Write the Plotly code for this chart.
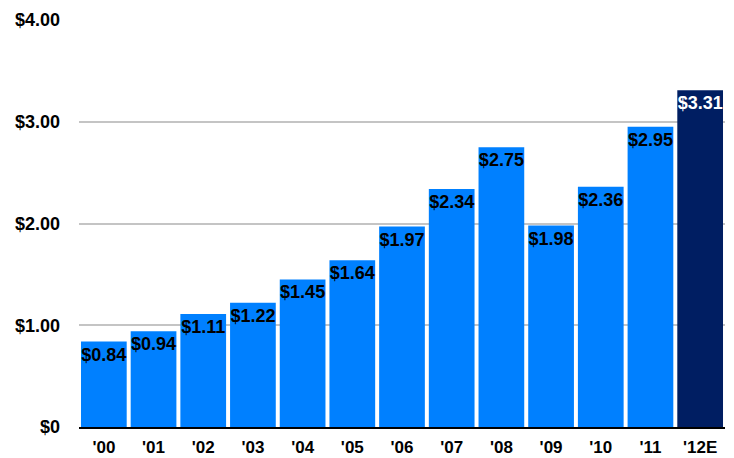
import plotly.graph_objects as go

years = ["'00", "'01", "'02", "'03", "'04", "'05", "'06", "'07", "'08", "'09", "'10", "'11", "'12E"]
eps = [0.84, 0.94, 1.11, 1.22, 1.45, 1.64, 1.97, 2.34, 2.75, 1.98, 2.36, 2.95, 3.31]
y_tickvals = [0, 1, 2, 3, 4]
y_ticktext = ["$0", "$1.00", "$2.00", "$3.00", "$4.00"]

FONT = "Liberation Sans, Arial, sans-serif"
colors = ["#0080FF"] * (len(eps) - 1) + ["#001E62"]
text_colors = ["#000000"] * (len(eps) - 1) + ["#FFFFFF"]

fig = go.Figure(go.Bar(
    x=years, y=eps,
    marker=dict(color=colors, line=dict(width=0)),
    text=[f"${v:.2f}" for v in eps],
    textposition="inside",
    insidetextanchor="end",
    constraintext="none",
    textangle=0,
    textfont=dict(family=FONT, size=18, color=text_colors, weight="bold"),
    hoverinfo="skip",
))

fig.update_layout(
    width=734, height=458,
    margin=dict(l=79, r=9, t=20, b=31),
    plot_bgcolor="white", paper_bgcolor="white",
    bargap=0.08,
    showlegend=False,
    font=dict(family=FONT, size=18, color="#000000", weight="bold"),
)
fig.update_xaxes(
    showline=True, linecolor="#000000", linewidth=1.5,
    showgrid=False, ticks="", automargin=False,
    tickfont=dict(family=FONT, size=17, color="#000000", weight="bold"),
    ticklabelstandoff=4,
)
fig.update_yaxes(
    range=[0, 4], tickvals=y_tickvals, ticktext=y_ticktext,
    showgrid=True, gridcolor="#C4C4C4", gridwidth=1.5,
    zeroline=False, showline=False, ticks="", automargin=False,
    tickfont=dict(family=FONT, size=18, color="#000000", weight="bold"),
    ticklabelstandoff=18,
)

fig.write_html("out.html")
